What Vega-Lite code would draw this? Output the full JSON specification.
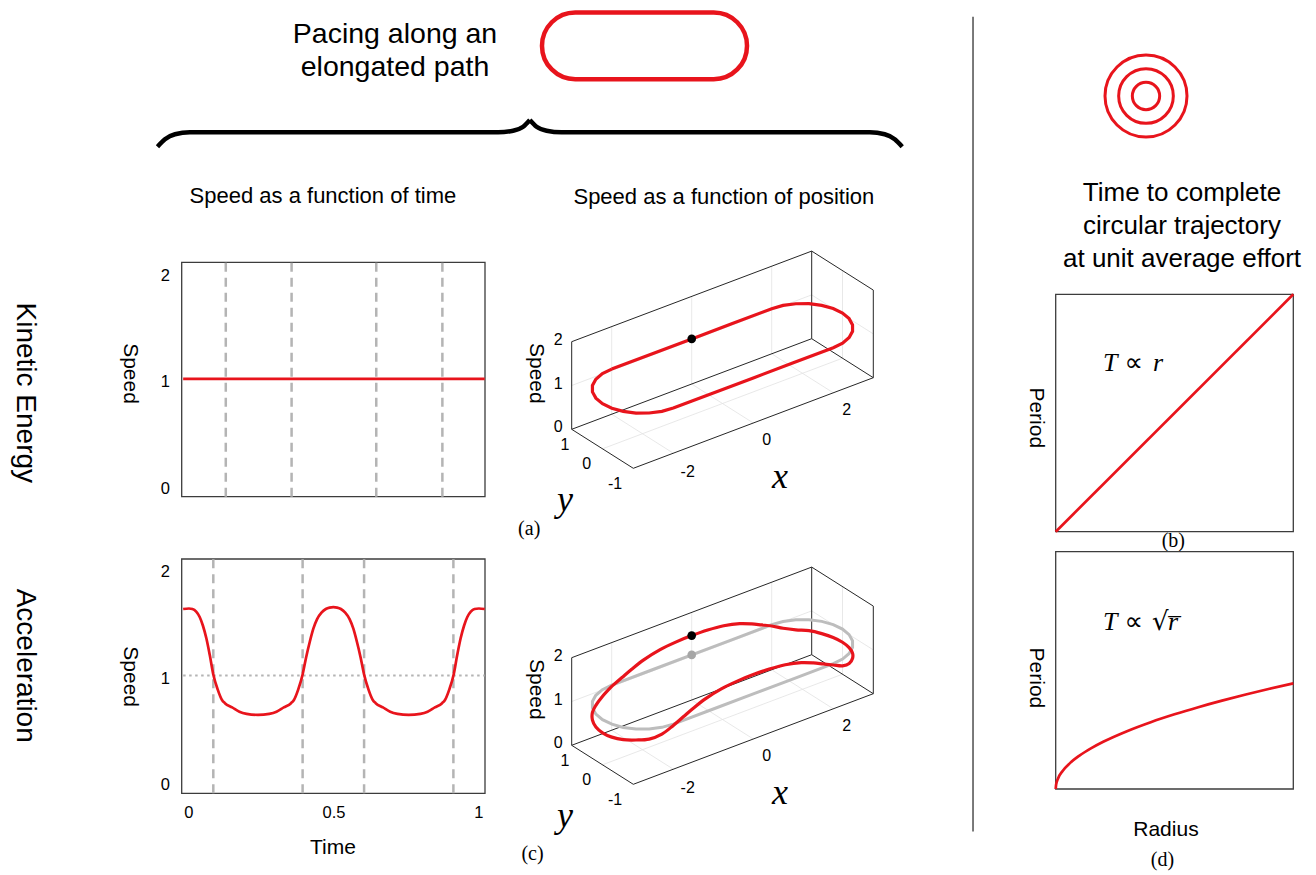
{
"$schema":"https://vega.github.io/schema/vega-lite/v6.json",
"width":1316,"height":875,"padding":0,"autosize":{"type":"none"},"background":"#ffffff",
"config":{"view":{"stroke":null},"text":{"font":"Liberation Sans","color":"#000000"}},
"resolve":{"scale":{"x":"independent","y":"independent","size":"independent"}},
"datasets":{
"ke_time":[{"t":-0.02,"speed":1.03},{"t":1.02,"speed":1.03}],
"ke_switch":[{"t":0.127},{"t":0.354},{"t":0.646},{"t":0.874}],
"acc_switch":[{"t":0.084},{"t":0.392},{"t":0.604},{"t":0.912}],
"acc_time":[{"t":-0.02,"speed":1.655},{"t":0,"speed":1.66},{"t":0.012,"speed":1.655},{"t":0.025,"speed":1.63},{"t":0.037,"speed":1.58},{"t":0.048,"speed":1.5},{"t":0.06,"speed":1.38},{"t":0.072,"speed":1.22},{"t":0.084,"speed":1.04},{"t":0.099,"speed":0.9},{"t":0.114,"speed":0.8},{"t":0.124,"speed":0.77},{"t":0.149,"speed":0.73},{"t":0.174,"speed":0.69},{"t":0.199,"speed":0.67},{"t":0.238,"speed":0.66},{"t":0.277,"speed":0.67},{"t":0.302,"speed":0.69},{"t":0.327,"speed":0.73},{"t":0.352,"speed":0.77},{"t":0.362,"speed":0.8},{"t":0.377,"speed":0.9},{"t":0.392,"speed":1.04},{"t":0.404,"speed":1.2},{"t":0.417,"speed":1.35},{"t":0.429,"speed":1.47},{"t":0.442,"speed":1.56},{"t":0.457,"speed":1.62},{"t":0.472,"speed":1.655},{"t":0.485,"speed":1.668},{"t":0.498,"speed":1.672},{"t":0.511,"speed":1.668},{"t":0.524,"speed":1.655},{"t":0.539,"speed":1.62},{"t":0.554,"speed":1.56},{"t":0.567,"speed":1.47},{"t":0.579,"speed":1.35},{"t":0.592,"speed":1.2},{"t":0.604,"speed":1.04},{"t":0.619,"speed":0.9},{"t":0.634,"speed":0.8},{"t":0.644,"speed":0.77},{"t":0.669,"speed":0.73},{"t":0.694,"speed":0.69},{"t":0.719,"speed":0.67},{"t":0.758,"speed":0.66},{"t":0.798,"speed":0.67},{"t":0.823,"speed":0.69},{"t":0.848,"speed":0.73},{"t":0.873,"speed":0.77},{"t":0.883,"speed":0.8},{"t":0.898,"speed":0.9},{"t":0.913,"speed":1.04},{"t":0.925,"speed":1.22},{"t":0.937,"speed":1.38},{"t":0.949,"speed":1.5},{"t":0.96,"speed":1.58},{"t":0.972,"speed":1.63},{"t":0.985,"speed":1.655},{"t":1.0,"speed":1.66},{"t":1.02,"speed":1.655}],
"speed_ticks":[{"v":0,"label":"0"},{"v":1,"label":"1"},{"v":2,"label":"2"}],
"time_ticks":[{"v":0,"label":"0"},{"v":0.5,"label":"0.5"},{"v":1,"label":"1"}],
"path_top":[{"i":0,"u":-2.77,"w":0.8605},{"i":1,"u":-1.77,"w":1.238},{"i":2,"u":-0.77,"w":1.6155},{"i":3,"u":0.23,"w":1.993},{"i":4,"u":1.23,"w":2.3705},{"i":5,"u":1.5151,"w":2.4516},{"i":6,"u":1.8332,"w":2.494},{"i":7,"u":2.1626,"w":2.4946},{"i":8,"u":2.481,"w":2.4537},{"i":9,"u":2.7666,"w":2.3738},{"i":10,"u":3,"w":2.2605},{"i":11,"u":3.1652,"w":2.1214},{"i":12,"u":3.251,"w":1.9661},{"i":13,"u":3.2516,"w":1.8052},{"i":14,"u":3.1668,"w":1.6496},{"i":15,"u":3.0025,"w":1.5098},{"i":16,"u":2.77,"w":1.3955},{"i":17,"u":1.77,"w":1.018},{"i":18,"u":0.77,"w":0.6405},{"i":19,"u":-0.23,"w":0.263},{"i":20,"u":-1.23,"w":-0.1145},{"i":21,"u":-1.5151,"w":-0.1956},{"i":22,"u":-1.8332,"w":-0.238},{"i":23,"u":-2.1626,"w":-0.2386},{"i":24,"u":-2.481,"w":-0.1977},{"i":25,"u":-2.7666,"w":-0.1178},{"i":26,"u":-3,"w":-0.0045},{"i":27,"u":-3.1652,"w":0.1346},{"i":28,"u":-3.251,"w":0.2899},{"i":29,"u":-3.2516,"w":0.4508},{"i":30,"u":-3.1668,"w":0.6064},{"i":31,"u":-3.0025,"w":0.7462},{"i":32,"u":-2.77,"w":0.8605}],
"path_acc":[{"i":0,"u":-2.77,"w":0.8275},{"i":1,"u":-2.52,"w":1.0424},{"i":2,"u":-2.27,"w":1.2571},{"i":3,"u":-1.97,"w":1.4909},{"i":4,"u":-1.57,"w":1.7404},{"i":5,"u":-1.17,"w":1.9352},{"i":6,"u":-0.77,"w":2.0972},{"i":7,"u":-0.37,"w":2.2372},{"i":8,"u":0.03,"w":2.3444},{"i":9,"u":0.43,"w":2.3969},{"i":10,"u":0.73,"w":2.3897},{"i":11,"u":0.98,"w":2.3636},{"i":12,"u":1.23,"w":2.3375},{"i":13,"u":1.5151,"w":2.2817},{"i":14,"u":1.8332,"w":2.242},{"i":15,"u":2.1626,"w":2.2207},{"i":16,"u":2.481,"w":2.147},{"i":17,"u":2.7666,"w":2.0506},{"i":18,"u":3,"w":1.9319},{"i":19,"u":3.1652,"w":1.7982},{"i":20,"u":3.251,"w":1.6594},{"i":21,"u":3.2516,"w":1.5313},{"i":22,"u":3.1668,"w":1.3976},{"i":23,"u":3.0025,"w":1.3399},{"i":24,"u":2.77,"w":1.3625},{"i":25,"u":2.52,"w":1.3886},{"i":26,"u":2.27,"w":1.4147},{"i":27,"u":1.97,"w":1.4219},{"i":28,"u":1.57,"w":1.3694},{"i":29,"u":1.17,"w":1.2622},{"i":30,"u":0.77,"w":1.1222},{"i":31,"u":0.37,"w":0.9602},{"i":32,"u":-0.03,"w":0.7654},{"i":33,"u":-0.43,"w":0.5159},{"i":34,"u":-0.73,"w":0.2821},{"i":35,"u":-0.98,"w":0.0674},{"i":36,"u":-1.23,"w":-0.1475},{"i":37,"u":-1.5151,"w":-0.3655},{"i":38,"u":-1.8332,"w":-0.49},{"i":39,"u":-2.1626,"w":-0.5125},{"i":40,"u":-2.481,"w":-0.5044},{"i":41,"u":-2.7666,"w":-0.441},{"i":42,"u":-3,"w":-0.3331},{"i":43,"u":-3.1652,"w":-0.1886},{"i":44,"u":-3.251,"w":-0.0168},{"i":45,"u":-3.2516,"w":0.1769},{"i":46,"u":-3.1668,"w":0.3544},{"i":47,"u":-3.0025,"w":0.5763},{"i":48,"u":-2.77,"w":0.8275}],
"box3d":[{"u1":-3.77,"w1":-0.645,"u2":-2.23,"w2":-1.62},{"u1":-2.23,"w1":-1.62,"u2":3.77,"w2":0.645},{"u1":-3.77,"w1":-0.645,"u2":-3.77,"w2":1.545},{"u1":-3.77,"w1":-0.645,"u2":2.23,"w2":1.62},{"u1":2.23,"w1":1.62,"u2":3.77,"w2":0.645},{"u1":2.23,"w1":1.62,"u2":2.23,"w2":3.81},{"u1":-3.77,"w1":1.545,"u2":2.23,"w2":3.81},{"u1":2.23,"w1":3.81,"u2":3.77,"w2":2.835},{"u1":3.77,"w1":2.835,"u2":3.77,"w2":0.645}],
"grid3d":[{"u1":-2.77,"w1":-0.2675,"u2":-2.77,"w2":1.9225},{"u1":-0.77,"w1":0.4875,"u2":-0.77,"w2":2.6775},{"u1":1.23,"w1":1.2425,"u2":1.23,"w2":3.4325},{"u1":-3.77,"w1":0.45,"u2":2.23,"w2":2.715},{"u1":-1.23,"w1":-1.2425,"u2":-2.77,"w2":-0.2675},{"u1":0.77,"w1":-0.4875,"u2":-0.77,"w2":0.4875},{"u1":2.77,"w1":0.2675,"u2":1.23,"w2":1.2425},{"u1":-3,"w1":-1.1325,"u2":3,"w2":1.1325},{"u1":3,"w1":1.1325,"u2":3,"w2":3.3225},{"u1":3.77,"w1":1.74,"u2":2.23,"w2":2.715}],
"ticks3d":[{"u":-4.105,"w":-0.595,"label":"0"},{"u":-4.105,"w":0.5,"label":"1"},{"u":-4.105,"w":1.595,"label":"2"},{"u":-3.9375,"w":-1.0375,"label":"1"},{"u":-3.395,"w":-1.52,"label":"0"},{"u":-2.6875,"w":-2.02,"label":"-1"},{"u":-0.87,"w":-1.72,"label":"-2"},{"u":1.105,"w":-0.9125,"label":"0"},{"u":3.105,"w":-0.1625,"label":"2"}],
"letters3d":[{"u":1.4375,"w":-1.8375,"label":"x"},{"u":-3.9375,"w":-2.4125,"label":"y"}],
"brace":[{"side":"left","bx":-1,"by":-1.17},{"side":"left","bx":-0.98,"by":-0.57},{"side":"left","bx":-0.953,"by":-0.16},{"side":"left","bx":-0.913,"by":0},{"side":"left","bx":-0.085,"by":0},{"side":"left","bx":-0.045,"by":0.13},{"side":"left","bx":-0.018,"by":0.455},{"side":"left","bx":0,"by":1},{"side":"right","bx":0,"by":1},{"side":"right","bx":0.018,"by":0.455},{"side":"right","bx":0.045,"by":0.13},{"side":"right","bx":0.085,"by":0},{"side":"right","bx":0.913,"by":0},{"side":"right","bx":0.953,"by":-0.16},{"side":"right","bx":0.98,"by":-0.57},{"side":"right","bx":1,"by":-1.17}],
"rings":[{"r":1},{"r":2},{"r":3}],
"period_linear":[{"radius":0,"period":0},{"radius":1,"period":1}],
"period_sqrt":[{"radius":0,"period":0},{"radius":0.002,"period":0.0199},{"radius":0.01,"period":0.0445},{"radius":0.03,"period":0.0771},{"radius":0.06,"period":0.109},{"radius":0.1,"period":0.1407},{"radius":0.15,"period":0.1723},{"radius":0.2,"period":0.199},{"radius":0.3,"period":0.2437},{"radius":0.4,"period":0.2815},{"radius":0.5,"period":0.3147},{"radius":0.6,"period":0.3447},{"radius":0.7,"period":0.3723},{"radius":0.8,"period":0.398},{"radius":0.9,"period":0.4222},{"radius":1,"period":0.445}]
},
"layer":[
{"layer":[
 {"data":{"values":[{}]},"mark":{"type":"rect","fillOpacity":0,"stroke":"#3c3c3c","strokeWidth":1.3},
  "encoding":{"x":{"datum":-0.025,"type":"quantitative","scale":{"domain":[-0.025,1.021],"range":[181.7,485],"nice":false,"zero":false},"axis":null},"x2":{"datum":1.021},
  "y":{"datum":-0.077,"type":"quantitative","scale":{"domain":[-0.077,2.125],"range":[496.7,262.3],"nice":false,"zero":false},"axis":null},"y2":{"datum":2.125}}},
 {"data":{"name":"ke_switch"},"mark":{"type":"rule","stroke":"#b4b4b4","strokeWidth":2.5,"strokeDash":[9,6]},
  "encoding":{"x":{"field":"t","type":"quantitative","scale":{"domain":[-0.025,1.021],"range":[181.7,485],"nice":false,"zero":false},"axis":null},
  "y":{"datum":-0.077,"type":"quantitative","scale":{"domain":[-0.077,2.125],"range":[496.7,262.3],"nice":false,"zero":false},"axis":null},"y2":{"datum":2.125}}},
 {"data":{"name":"ke_time"},"mark":{"type":"line","stroke":"#e8141c","strokeWidth":2.7},
  "encoding":{"x":{"field":"t","type":"quantitative","scale":{"domain":[-0.025,1.021],"range":[181.7,485],"nice":false,"zero":false},"axis":null},
  "y":{"field":"speed","type":"quantitative","scale":{"domain":[-0.077,2.125],"range":[496.7,262.3],"nice":false,"zero":false},"axis":null}}},
 {"data":{"name":"speed_ticks"},"mark":{"type":"text","fontSize":16.5,"align":"right","baseline":"middle"},
  "encoding":{"x":{"datum":-0.0653,"type":"quantitative","scale":{"domain":[-0.025,1.021],"range":[181.7,485],"nice":false,"zero":false},"axis":null},
  "y":{"field":"v","type":"quantitative","scale":{"domain":[-0.077,2.125],"range":[496.7,262.3],"nice":false,"zero":false},"axis":null},"text":{"field":"label"}}},
 {"data":{"values":[{"label":"Speed"}]},"mark":{"type":"text","fontSize":21,"angle":90,"align":"center","baseline":"middle"},
  "encoding":{"x":{"datum":-0.205,"type":"quantitative","scale":{"domain":[-0.025,1.021],"range":[181.7,485],"nice":false,"zero":false},"axis":null},
  "y":{"datum":1.08,"type":"quantitative","scale":{"domain":[-0.077,2.125],"range":[496.7,262.3],"nice":false,"zero":false},"axis":null},"text":{"field":"label"}}},
 {"data":{"values":[{"t":0.462,"speed":2.75,"label":"Speed as a function of time"}]},"mark":{"type":"text","fontSize":22,"align":"center","baseline":"middle"},
  "encoding":{"x":{"field":"t","type":"quantitative","scale":{"domain":[-0.025,1.021],"range":[181.7,485],"nice":false,"zero":false},"axis":null},
  "y":{"field":"speed","type":"quantitative","scale":{"domain":[-0.077,2.125],"range":[496.7,262.3],"nice":false,"zero":false},"axis":null},"text":{"field":"label"}}},
 {"data":{"values":[{"t":-0.565,"speed":0.899,"label":"Kinetic Energy"}]},"mark":{"type":"text","fontSize":28,"angle":90,"align":"center","baseline":"middle"},
  "encoding":{"x":{"field":"t","type":"quantitative","scale":{"domain":[-0.025,1.021],"range":[181.7,485],"nice":false,"zero":false},"axis":null},
  "y":{"field":"speed","type":"quantitative","scale":{"domain":[-0.077,2.125],"range":[496.7,262.3],"nice":false,"zero":false},"axis":null},"text":{"field":"label"}}}
]},
{"layer":[
 {"data":{"values":[{}]},"mark":{"type":"rect","fillOpacity":0,"stroke":"#3c3c3c","strokeWidth":1.3},
  "encoding":{"x":{"datum":-0.025,"type":"quantitative","scale":{"domain":[-0.025,1.021],"range":[181.7,485],"nice":false,"zero":false},"axis":null},"x2":{"datum":1.021},
  "y":{"datum":-0.077,"type":"quantitative","scale":{"domain":[-0.077,2.125],"range":[793.3,559],"nice":false,"zero":false},"axis":null},"y2":{"datum":2.125}}},
 {"data":{"name":"acc_switch"},"mark":{"type":"rule","stroke":"#b4b4b4","strokeWidth":2.5,"strokeDash":[9,6]},
  "encoding":{"x":{"field":"t","type":"quantitative","scale":{"domain":[-0.025,1.021],"range":[181.7,485],"nice":false,"zero":false},"axis":null},
  "y":{"datum":-0.077,"type":"quantitative","scale":{"domain":[-0.077,2.125],"range":[793.3,559],"nice":false,"zero":false},"axis":null},"y2":{"datum":2.125}}},
 {"data":{"values":[{}]},"mark":{"type":"rule","stroke":"#b4b4b4","strokeWidth":2.2,"strokeDash":[2.5,3.5]},
  "encoding":{"x":{"datum":-0.02,"type":"quantitative","scale":{"domain":[-0.025,1.021],"range":[181.7,485],"nice":false,"zero":false},"axis":null},"x2":{"datum":1.02},
  "y":{"datum":1.03,"type":"quantitative","scale":{"domain":[-0.077,2.125],"range":[793.3,559],"nice":false,"zero":false},"axis":null}}},
 {"data":{"name":"acc_time"},"mark":{"type":"line","stroke":"#e8141c","strokeWidth":2.7,"interpolate":"monotone"},
  "encoding":{"x":{"field":"t","type":"quantitative","scale":{"domain":[-0.025,1.021],"range":[181.7,485],"nice":false,"zero":false},"axis":null},
  "y":{"field":"speed","type":"quantitative","scale":{"domain":[-0.077,2.125],"range":[793.3,559],"nice":false,"zero":false},"axis":null}}},
 {"data":{"name":"speed_ticks"},"mark":{"type":"text","fontSize":16.5,"align":"right","baseline":"middle"},
  "encoding":{"x":{"datum":-0.0653,"type":"quantitative","scale":{"domain":[-0.025,1.021],"range":[181.7,485],"nice":false,"zero":false},"axis":null},
  "y":{"field":"v","type":"quantitative","scale":{"domain":[-0.077,2.125],"range":[793.3,559],"nice":false,"zero":false},"axis":null},"text":{"field":"label"}}},
 {"data":{"name":"time_ticks"},"mark":{"type":"text","fontSize":16.5,"align":"center","baseline":"middle"},
  "encoding":{"x":{"field":"v","type":"quantitative","scale":{"domain":[-0.025,1.021],"range":[181.7,485],"nice":false,"zero":false},"axis":null},
  "y":{"datum":-0.265,"type":"quantitative","scale":{"domain":[-0.077,2.125],"range":[793.3,559],"nice":false,"zero":false},"axis":null},"text":{"field":"label"}}},
 {"data":{"values":[{"label":"Speed"}]},"mark":{"type":"text","fontSize":21,"angle":90,"align":"center","baseline":"middle"},
  "encoding":{"x":{"datum":-0.205,"type":"quantitative","scale":{"domain":[-0.025,1.021],"range":[181.7,485],"nice":false,"zero":false},"axis":null},
  "y":{"datum":1.019,"type":"quantitative","scale":{"domain":[-0.077,2.125],"range":[793.3,559],"nice":false,"zero":false},"axis":null},"text":{"field":"label"}}},
 {"data":{"values":[{"label":"Time"}]},"mark":{"type":"text","fontSize":21,"align":"center","baseline":"middle"},
  "encoding":{"x":{"datum":0.4967,"type":"quantitative","scale":{"domain":[-0.025,1.021],"range":[181.7,485],"nice":false,"zero":false},"axis":null},
  "y":{"datum":-0.594,"type":"quantitative","scale":{"domain":[-0.077,2.125],"range":[793.3,559],"nice":false,"zero":false},"axis":null},"text":{"field":"label"}}},
 {"data":{"values":[{"t":-0.565,"speed":1.122,"label":"Acceleration"}]},"mark":{"type":"text","fontSize":28,"angle":90,"align":"center","baseline":"middle"},
  "encoding":{"x":{"field":"t","type":"quantitative","scale":{"domain":[-0.025,1.021],"range":[181.7,485],"nice":false,"zero":false},"axis":null},
  "y":{"field":"speed","type":"quantitative","scale":{"domain":[-0.077,2.125],"range":[793.3,559],"nice":false,"zero":false},"axis":null},"text":{"field":"label"}}}
]},
{"layer":[
 {"data":{"name":"grid3d"},"mark":{"type":"rule","stroke":"#e2e2e2","strokeWidth":0.8},
  "encoding":{"x":{"field":"u1","type":"quantitative","scale":{"domain":[-3.77,3.77],"range":[571.7,873.3],"nice":false,"zero":false},"axis":null},"x2":{"field":"u2"},
  "y":{"field":"w1","type":"quantitative","scale":{"domain":[-1.62,3.81],"range":[468.3,251.1],"nice":false,"zero":false},"axis":null},"y2":{"field":"w2"}}},
 {"data":{"name":"box3d"},"mark":{"type":"rule","stroke":"#262626","strokeWidth":1},
  "encoding":{"x":{"field":"u1","type":"quantitative","scale":{"domain":[-3.77,3.77],"range":[571.7,873.3],"nice":false,"zero":false},"axis":null},"x2":{"field":"u2"},
  "y":{"field":"w1","type":"quantitative","scale":{"domain":[-1.62,3.81],"range":[468.3,251.1],"nice":false,"zero":false},"axis":null},"y2":{"field":"w2"}}},
 {"data":{"name":"path_top"},"mark":{"type":"line","stroke":"#e8141c","strokeWidth":3.2},
  "encoding":{"x":{"field":"u","type":"quantitative","scale":{"domain":[-3.77,3.77],"range":[571.7,873.3],"nice":false,"zero":false},"axis":null},
  "y":{"field":"w","type":"quantitative","scale":{"domain":[-1.62,3.81],"range":[468.3,251.1],"nice":false,"zero":false},"axis":null},"order":{"field":"i","type":"quantitative"}}},
 {"data":{"values":[{"u":-0.77,"w":1.6155}]},"mark":{"type":"circle","size":75,"color":"#000000","opacity":1},
  "encoding":{"x":{"field":"u","type":"quantitative","scale":{"domain":[-3.77,3.77],"range":[571.7,873.3],"nice":false,"zero":false},"axis":null},
  "y":{"field":"w","type":"quantitative","scale":{"domain":[-1.62,3.81],"range":[468.3,251.1],"nice":false,"zero":false},"axis":null}}},
 {"data":{"name":"ticks3d"},"mark":{"type":"text","fontSize":16,"align":"center","baseline":"middle"},
  "encoding":{"x":{"field":"u","type":"quantitative","scale":{"domain":[-3.77,3.77],"range":[571.7,873.3],"nice":false,"zero":false},"axis":null},
  "y":{"field":"w","type":"quantitative","scale":{"domain":[-1.62,3.81],"range":[468.3,251.1],"nice":false,"zero":false},"axis":null},"text":{"field":"label"}}},
 {"data":{"name":"letters3d"},"mark":{"type":"text","font":"Liberation Serif","fontStyle":"italic","fontSize":36,"align":"center","baseline":"middle"},
  "encoding":{"x":{"field":"u","type":"quantitative","scale":{"domain":[-3.77,3.77],"range":[571.7,873.3],"nice":false,"zero":false},"axis":null},
  "y":{"field":"w","type":"quantitative","scale":{"domain":[-1.62,3.81],"range":[468.3,251.1],"nice":false,"zero":false},"axis":null},"text":{"field":"label"}}},
 {"data":{"values":[{"u":-4.6675,"w":0.755,"label":"Speed"}]},"mark":{"type":"text","fontSize":21,"angle":90,"align":"center","baseline":"middle"},
  "encoding":{"x":{"field":"u","type":"quantitative","scale":{"domain":[-3.77,3.77],"range":[571.7,873.3],"nice":false,"zero":false},"axis":null},
  "y":{"field":"w","type":"quantitative","scale":{"domain":[-1.62,3.81],"range":[468.3,251.1],"nice":false,"zero":false},"axis":null},"text":{"field":"label"}}},
 {"data":{"values":[{"u":-4.8325,"w":-3.1425,"label":"(a)"}]},"mark":{"type":"text","font":"Liberation Serif","fontSize":20,"align":"center","baseline":"middle"},
  "encoding":{"x":{"field":"u","type":"quantitative","scale":{"domain":[-3.77,3.77],"range":[571.7,873.3],"nice":false,"zero":false},"axis":null},
  "y":{"field":"w","type":"quantitative","scale":{"domain":[-1.62,3.81],"range":[468.3,251.1],"nice":false,"zero":false},"axis":null},"text":{"field":"label"}}},
 {"data":{"values":[{"u":0.035,"w":5.175,"label":"Speed as a function of position"}]},"mark":{"type":"text","fontSize":22,"align":"center","baseline":"middle"},
  "encoding":{"x":{"field":"u","type":"quantitative","scale":{"domain":[-3.77,3.77],"range":[571.7,873.3],"nice":false,"zero":false},"axis":null},
  "y":{"field":"w","type":"quantitative","scale":{"domain":[-1.62,3.81],"range":[468.3,251.1],"nice":false,"zero":false},"axis":null},"text":{"field":"label"}}}
]},
{"layer":[
 {"data":{"name":"grid3d"},"mark":{"type":"rule","stroke":"#e2e2e2","strokeWidth":0.8},
  "encoding":{"x":{"field":"u1","type":"quantitative","scale":{"domain":[-3.77,3.77],"range":[571.7,873.3],"nice":false,"zero":false},"axis":null},"x2":{"field":"u2"},
  "y":{"field":"w1","type":"quantitative","scale":{"domain":[-1.62,3.81],"range":[784.3,567.1],"nice":false,"zero":false},"axis":null},"y2":{"field":"w2"}}},
 {"data":{"name":"box3d"},"mark":{"type":"rule","stroke":"#262626","strokeWidth":1},
  "encoding":{"x":{"field":"u1","type":"quantitative","scale":{"domain":[-3.77,3.77],"range":[571.7,873.3],"nice":false,"zero":false},"axis":null},"x2":{"field":"u2"},
  "y":{"field":"w1","type":"quantitative","scale":{"domain":[-1.62,3.81],"range":[784.3,567.1],"nice":false,"zero":false},"axis":null},"y2":{"field":"w2"}}},
 {"data":{"name":"path_top"},"mark":{"type":"line","stroke":"#bdbdbd","strokeWidth":3},
  "encoding":{"x":{"field":"u","type":"quantitative","scale":{"domain":[-3.77,3.77],"range":[571.7,873.3],"nice":false,"zero":false},"axis":null},
  "y":{"field":"w","type":"quantitative","scale":{"domain":[-1.62,3.81],"range":[784.3,567.1],"nice":false,"zero":false},"axis":null},"order":{"field":"i","type":"quantitative"}}},
 {"data":{"values":[{"u":-0.77,"w":1.6155}]},"mark":{"type":"circle","size":75,"color":"#a6a6a6","opacity":1},
  "encoding":{"x":{"field":"u","type":"quantitative","scale":{"domain":[-3.77,3.77],"range":[571.7,873.3],"nice":false,"zero":false},"axis":null},
  "y":{"field":"w","type":"quantitative","scale":{"domain":[-1.62,3.81],"range":[784.3,567.1],"nice":false,"zero":false},"axis":null}}},
 {"data":{"name":"path_acc"},"mark":{"type":"line","stroke":"#e8141c","strokeWidth":3.2,"interpolate":"catmull-rom"},
  "encoding":{"x":{"field":"u","type":"quantitative","scale":{"domain":[-3.77,3.77],"range":[571.7,873.3],"nice":false,"zero":false},"axis":null},
  "y":{"field":"w","type":"quantitative","scale":{"domain":[-1.62,3.81],"range":[784.3,567.1],"nice":false,"zero":false},"axis":null},"order":{"field":"i","type":"quantitative"}}},
 {"data":{"values":[{"u":-0.77,"w":2.0972}]},"mark":{"type":"circle","size":75,"color":"#000000","opacity":1},
  "encoding":{"x":{"field":"u","type":"quantitative","scale":{"domain":[-3.77,3.77],"range":[571.7,873.3],"nice":false,"zero":false},"axis":null},
  "y":{"field":"w","type":"quantitative","scale":{"domain":[-1.62,3.81],"range":[784.3,567.1],"nice":false,"zero":false},"axis":null}}},
 {"data":{"name":"ticks3d"},"mark":{"type":"text","fontSize":16,"align":"center","baseline":"middle"},
  "encoding":{"x":{"field":"u","type":"quantitative","scale":{"domain":[-3.77,3.77],"range":[571.7,873.3],"nice":false,"zero":false},"axis":null},
  "y":{"field":"w","type":"quantitative","scale":{"domain":[-1.62,3.81],"range":[784.3,567.1],"nice":false,"zero":false},"axis":null},"text":{"field":"label"}}},
 {"data":{"name":"letters3d"},"mark":{"type":"text","font":"Liberation Serif","fontStyle":"italic","fontSize":36,"align":"center","baseline":"middle"},
  "encoding":{"x":{"field":"u","type":"quantitative","scale":{"domain":[-3.77,3.77],"range":[571.7,873.3],"nice":false,"zero":false},"axis":null},
  "y":{"field":"w","type":"quantitative","scale":{"domain":[-1.62,3.81],"range":[784.3,567.1],"nice":false,"zero":false},"axis":null},"text":{"field":"label"}}},
 {"data":{"values":[{"u":-4.6675,"w":0.755,"label":"Speed"}]},"mark":{"type":"text","fontSize":21,"angle":90,"align":"center","baseline":"middle"},
  "encoding":{"x":{"field":"u","type":"quantitative","scale":{"domain":[-3.77,3.77],"range":[571.7,873.3],"nice":false,"zero":false},"axis":null},
  "y":{"field":"w","type":"quantitative","scale":{"domain":[-1.62,3.81],"range":[784.3,567.1],"nice":false,"zero":false},"axis":null},"text":{"field":"label"}}},
 {"data":{"values":[{"u":-4.75,"w":-3.3675,"label":"(c)"}]},"mark":{"type":"text","font":"Liberation Serif","fontSize":20,"align":"center","baseline":"middle"},
  "encoding":{"x":{"field":"u","type":"quantitative","scale":{"domain":[-3.77,3.77],"range":[571.7,873.3],"nice":false,"zero":false},"axis":null},
  "y":{"field":"w","type":"quantitative","scale":{"domain":[-1.62,3.81],"range":[784.3,567.1],"nice":false,"zero":false},"axis":null},"text":{"field":"label"}}}
]},
{"layer":[
 {"data":{"values":[{}]},"mark":{"type":"rect","fillOpacity":0,"stroke":"#3c3c3c","strokeWidth":1.3},
  "encoding":{"x":{"datum":0,"type":"quantitative","scale":{"domain":[0,1],"range":[1055.7,1293.3],"nice":false,"zero":false},"axis":null},"x2":{"datum":1},
  "y":{"datum":0,"type":"quantitative","scale":{"domain":[0,1],"range":[531.7,294.3],"nice":false,"zero":false},"axis":null},"y2":{"datum":1}}},
 {"data":{"name":"period_linear"},"mark":{"type":"line","stroke":"#e8141c","strokeWidth":2.7},
  "encoding":{"x":{"field":"radius","type":"quantitative","scale":{"domain":[0,1],"range":[1055.7,1293.3],"nice":false,"zero":false},"axis":null},
  "y":{"field":"period","type":"quantitative","scale":{"domain":[0,1],"range":[531.7,294.3],"nice":false,"zero":false},"axis":null}}},
 {"data":{"values":[{"label":"Period"}]},"mark":{"type":"text","fontSize":21,"angle":90,"align":"center","baseline":"middle"},
  "encoding":{"x":{"datum":-0.085,"type":"quantitative","scale":{"domain":[0,1],"range":[1055.7,1293.3],"nice":false,"zero":false},"axis":null},
  "y":{"datum":0.48,"type":"quantitative","scale":{"domain":[0,1],"range":[531.7,294.3],"nice":false,"zero":false},"axis":null},"text":{"field":"label"}}},
 {"data":{"values":[{"radius":0.199,"period":0.7106,"label":"T"},{"radius":0.4095,"period":0.7106,"label":"r"}]},"mark":{"type":"text","font":"Liberation Serif","fontStyle":"italic","fontSize":26,"align":"left","baseline":"middle"},
  "encoding":{"x":{"field":"radius","type":"quantitative","scale":{"domain":[0,1],"range":[1055.7,1293.3],"nice":false,"zero":false},"axis":null},
  "y":{"field":"period","type":"quantitative","scale":{"domain":[0,1],"range":[531.7,294.3],"nice":false,"zero":false},"axis":null},"text":{"field":"label"}}},
 {"data":{"values":[{"radius":0.29,"period":0.7106,"label":"∝"}]},"mark":{"type":"text","font":"DejaVu Sans","fontSize":26,"align":"left","baseline":"middle"},
  "encoding":{"x":{"field":"radius","type":"quantitative","scale":{"domain":[0,1],"range":[1055.7,1293.3],"nice":false,"zero":false},"axis":null},
  "y":{"field":"period","type":"quantitative","scale":{"domain":[0,1],"range":[531.7,294.3],"nice":false,"zero":false},"axis":null},"text":{"field":"label"}}},
 {"data":{"values":[{"radius":0.495,"period":-0.038,"label":"(b)"}]},"mark":{"type":"text","font":"Liberation Serif","fontSize":20,"align":"center","baseline":"middle"},
  "encoding":{"x":{"field":"radius","type":"quantitative","scale":{"domain":[0,1],"range":[1055.7,1293.3],"nice":false,"zero":false},"axis":null},
  "y":{"field":"period","type":"quantitative","scale":{"domain":[0,1],"range":[531.7,294.3],"nice":false,"zero":false},"axis":null},"text":{"field":"label"}}},
 {"data":{"values":[{}]},"mark":{"type":"rule","stroke":"#333333","strokeWidth":1.3},
  "encoding":{"x":{"datum":-0.348,"type":"quantitative","scale":{"domain":[0,1],"range":[1055.7,1293.3],"nice":false,"zero":false},"axis":null},
  "y":{"datum":2.169,"type":"quantitative","scale":{"domain":[0,1],"range":[531.7,294.3],"nice":false,"zero":false},"axis":null},"y2":{"datum":-1.263}}}
]},
{"layer":[
 {"data":{"values":[{}]},"mark":{"type":"rect","fillOpacity":0,"stroke":"#3c3c3c","strokeWidth":1.3},
  "encoding":{"x":{"datum":0,"type":"quantitative","scale":{"domain":[0,1],"range":[1055.7,1293.3],"nice":false,"zero":false},"axis":null},"x2":{"datum":1},
  "y":{"datum":0,"type":"quantitative","scale":{"domain":[0,1],"range":[789,551.7],"nice":false,"zero":false},"axis":null},"y2":{"datum":1}}},
 {"data":{"name":"period_sqrt"},"mark":{"type":"line","stroke":"#e8141c","strokeWidth":2.7,"interpolate":"monotone"},
  "encoding":{"x":{"field":"radius","type":"quantitative","scale":{"domain":[0,1],"range":[1055.7,1293.3],"nice":false,"zero":false},"axis":null},
  "y":{"field":"period","type":"quantitative","scale":{"domain":[0,1],"range":[789,551.7],"nice":false,"zero":false},"axis":null}}},
 {"data":{"values":[{"label":"Period"}]},"mark":{"type":"text","fontSize":21,"angle":90,"align":"center","baseline":"middle"},
  "encoding":{"x":{"datum":-0.085,"type":"quantitative","scale":{"domain":[0,1],"range":[1055.7,1293.3],"nice":false,"zero":false},"axis":null},
  "y":{"datum":0.468,"type":"quantitative","scale":{"domain":[0,1],"range":[789,551.7],"nice":false,"zero":false},"axis":null},"text":{"field":"label"}}},
 {"data":{"values":[{"label":"Radius"}]},"mark":{"type":"text","fontSize":21,"align":"center","baseline":"middle"},
  "encoding":{"x":{"datum":0.464,"type":"quantitative","scale":{"domain":[0,1],"range":[1055.7,1293.3],"nice":false,"zero":false},"axis":null},
  "y":{"datum":-0.173,"type":"quantitative","scale":{"domain":[0,1],"range":[789,551.7],"nice":false,"zero":false},"axis":null},"text":{"field":"label"}}},
 {"data":{"values":[{"radius":0.199,"period":0.705,"label":"T"},{"radius":0.4725,"period":0.705,"label":"r̅"}]},"mark":{"type":"text","font":"Liberation Serif","fontStyle":"italic","fontSize":26,"align":"left","baseline":"middle"},
  "encoding":{"x":{"field":"radius","type":"quantitative","scale":{"domain":[0,1],"range":[1055.7,1293.3],"nice":false,"zero":false},"axis":null},
  "y":{"field":"period","type":"quantitative","scale":{"domain":[0,1],"range":[789,551.7],"nice":false,"zero":false},"axis":null},"text":{"field":"label"}}},
 {"data":{"values":[{"radius":0.29,"period":0.705,"label":"∝"},{"radius":0.405,"period":0.705,"label":"√"}]},"mark":{"type":"text","font":"DejaVu Sans","fontSize":26,"align":"left","baseline":"middle"},
  "encoding":{"x":{"field":"radius","type":"quantitative","scale":{"domain":[0,1],"range":[1055.7,1293.3],"nice":false,"zero":false},"axis":null},
  "y":{"field":"period","type":"quantitative","scale":{"domain":[0,1],"range":[789,551.7],"nice":false,"zero":false},"axis":null},"text":{"field":"label"}}},
 {"data":{"values":[{"radius":0.4495,"period":-0.3,"label":"(d)"}]},"mark":{"type":"text","font":"Liberation Serif","fontSize":20,"align":"center","baseline":"middle"},
  "encoding":{"x":{"field":"radius","type":"quantitative","scale":{"domain":[0,1],"range":[1055.7,1293.3],"nice":false,"zero":false},"axis":null},
  "y":{"field":"period","type":"quantitative","scale":{"domain":[0,1],"range":[789,551.7],"nice":false,"zero":false},"axis":null},"text":{"field":"label"}}}
]},
{"layer":[
 {"data":{"values":[{}]},"mark":{"type":"rect","fillOpacity":0,"stroke":"#e8141c","strokeWidth":4.5,"cornerRadius":33.3},
  "encoding":{"x":{"datum":0,"type":"quantitative","scale":{"domain":[0,1],"range":[542,747],"nice":false,"zero":false},"axis":null},"x2":{"datum":1},
  "y":{"datum":0,"type":"quantitative","scale":{"domain":[0,1],"range":[79.2,12.5],"nice":false,"zero":false},"axis":null},"y2":{"datum":1}}},
 {"data":{"values":[{"sx":-0.717,"sy":0.68,"label":"Pacing along an\nelongated path"}]},"mark":{"type":"text","fontSize":28.5,"lineBreak":"\n","lineHeight":33,"align":"center","baseline":"middle"},
  "encoding":{"x":{"field":"sx","type":"quantitative","scale":{"domain":[0,1],"range":[542,747],"nice":false,"zero":false},"axis":null},
  "y":{"field":"sy","type":"quantitative","scale":{"domain":[0,1],"range":[79.2,12.5],"nice":false,"zero":false},"axis":null},"text":{"field":"label"}}}
]},
{"data":{"name":"brace"},"mark":{"type":"line","stroke":"#000000","strokeWidth":4.5,"interpolate":"monotone"},
 "encoding":{"x":{"field":"bx","type":"quantitative","scale":{"domain":[-1,1],"range":[157.5,902.2],"nice":false,"zero":false},"axis":null},
 "y":{"field":"by","type":"quantitative","scale":{"domain":[-1.17,1],"range":[146.7,120],"nice":false,"zero":false},"axis":null},"detail":{"field":"side"}}},
{"layer":[
 {"data":{"name":"rings"},"mark":{"type":"point","shape":"circle","filled":false,"stroke":"#e8141c","strokeWidth":3,"opacity":1},
  "encoding":{"x":{"datum":0,"type":"quantitative","scale":{"domain":[-3,3],"range":[1105,1187],"nice":false,"zero":false},"axis":null},
  "y":{"datum":0,"type":"quantitative","scale":{"domain":[-3,3],"range":[137,55],"nice":false,"zero":false},"axis":null},
  "size":{"field":"r","type":"quantitative","scale":{"type":"pow","exponent":2,"domain":[0,3],"range":[0,6724]},"legend":null}}},
 {"data":{"values":[{"cx":2.634,"cy":-7.097,"label":"Time to complete\ncircular trajectory\nat unit average effort"}]},"mark":{"type":"text","fontSize":26,"lineBreak":"\n","lineHeight":33,"align":"center","baseline":"middle"},
  "encoding":{"x":{"field":"cx","type":"quantitative","scale":{"domain":[-3,3],"range":[1105,1187],"nice":false,"zero":false},"axis":null},
  "y":{"field":"cy","type":"quantitative","scale":{"domain":[-3,3],"range":[137,55],"nice":false,"zero":false},"axis":null},"text":{"field":"label"}}}
]}
]
}
